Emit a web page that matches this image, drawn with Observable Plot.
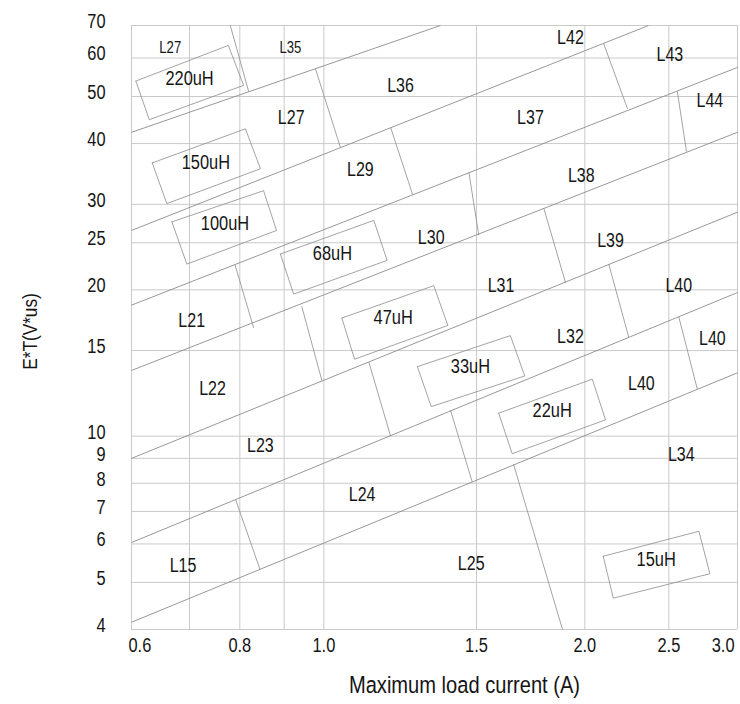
<!DOCTYPE html>
<html><head><meta charset="utf-8">
<script src="https://cdn.jsdelivr.net/npm/d3@7"></script>
<script src="https://cdn.jsdelivr.net/npm/@observablehq/plot@0.6"></script>
<style>
body{margin:0;background:#fff;}
</style></head><body><div id="chart"></div>
<script>
// grid / tick values
const xGrid = [0.6, 0.7, 0.8, 0.9, 1.0, 1.5, 2.0, 2.5, 3.0];
const xTickLabels = [0.8, 1.0, 1.5, 2.0, 2.5];
const xFirstTick = [0.6];
const xLastTick = [3.0];
const yGrid = [4, 5, 6, 7, 8, 9, 10, 15, 20, 25, 30, 40, 50, 60, 70];

// diagonal inductance boundaries [x1, y1, x2, y2]
const boundaries = [
  [0.6, 42.2, 1.363, 70],
  [0.6, 26.5, 2.369, 70],
  [0.6, 18.6, 3.0, 57.4],
  [0.6, 13.65, 3.0, 42.2],
  [0.6, 9.0, 3.0, 28.9],
  [0.6, 6.04, 3.0, 19.75],
  [0.6, 4.14, 3.0, 13.5]
];

// short separators between inductor codes [x1, y1, x2, y2]
const separators = [
  [0.780, 70, 0.819, 51.2],
  [0.978, 57.0, 1.045, 39.3],
  [1.194, 43.2, 1.266, 31.4],
  [2.102, 64.3, 2.240, 47.2],
  [0.790, 22.5, 0.830, 16.7],
  [1.470, 34.9, 1.509, 25.9],
  [2.557, 51.2, 2.620, 38.5],
  [0.943, 18.5, 0.995, 13.0],
  [1.794, 29.4, 1.900, 20.7],
  [1.127, 14.2, 1.194, 10.0],
  [2.131, 22.6, 2.247, 16.0],
  [0.791, 7.41, 0.844, 5.32],
  [1.400, 11.3, 1.483, 8.05],
  [2.567, 17.6, 2.696, 12.5],
  [1.655, 8.75, 1.885, 4.0]
];

// inductance label boxes (corner points)
const boxNames = ["220uH", "150uH", "100uH", "68uH", "47uH", "33uH", "22uH", "15uH"];
const boxCorners = [
  [[0.607, 53.8], [0.776, 63.7], [0.808, 52.7], [0.629, 44.8]],
  [[0.634, 36.5], [0.812, 42.9], [0.845, 35.5], [0.659, 30.1]],
  [[0.668, 27.6], [0.852, 32.0], [0.882, 26.5], [0.695, 22.6]],
  [[0.891, 23.7], [1.142, 27.8], [1.183, 23.0], [0.923, 19.6]],
  [[1.049, 17.5], [1.339, 20.4], [1.390, 16.9], [1.085, 14.4]],
  [[1.282, 13.9], [1.641, 16.1], [1.705, 13.3], [1.330, 11.5]],
  [[1.591, 11.15], [2.040, 13.1], [2.113, 10.8], [1.649, 9.2]],
  [[2.100, 5.66], [2.708, 6.37], [2.788, 5.21], [2.157, 4.64]]
];
const boxLabelX = [0.700, 0.731, 0.769, 1.023, 1.202, 1.476, 1.834, 2.417];
const boxLabelY = [54.4, 36.6, 27.4, 23.8, 17.5, 13.9, 11.3, 5.57];

// inductor code labels
const codeText = ["L27","L36","L42","L29","L37","L43","L21","L30","L38","L44",
  "L22","L31","L39","L40","L23","L32","L40","L40","L15","L24","L25","L34"];
const codeX = [0.917,1.226,1.925,1.102,1.731,2.507,0.704,1.330,1.981,2.788,
  0.744,1.601,2.141,2.567,0.845,1.925,2.806,2.324,0.688,1.107,1.479,2.584];
const codeY = [45.2,52.7,65.9,35.4,45.2,61.0,17.25,25.6,34.4,49.1,
  12.5,20.4,25.2,20.4,9.54,16.0,15.9,12.8,5.40,7.59,5.46,9.16];
const topCodeText = ["L27", "L35"];
const topCodeX = [0.665, 0.915];
const topCodeY = [62.9, 62.9];

const seg = a => a.map(([x1, y1, x2, y2]) => ({x1, y1, x2, y2}));
const boxPts = boxCorners.flatMap((c, i) => [...c, c[0]].map(([x, y]) => ({x, y, id: boxNames[i]})));
const boxLabels = boxNames.map((t, i) => ({t, x: boxLabelX[i], y: boxLabelY[i]}));
const codes = codeText.map((t, i) => ({t, x: codeX[i], y: codeY[i]}));
const topCodes = topCodeText.map((t, i) => ({t, x: topCodeX[i], y: topCodeY[i]}));
const f1 = d3.format(".1f");
const lineColor = "#8c8c8c";
const ink = "#151515";

const chart = Plot.plot({
  width: 740, height: 704,
  marginLeft: 131, marginRight: 3, marginTop: 25, marginBottom: 75,
  x: {type: "log", domain: [0.6, 3.0]},
  y: {type: "log", domain: [4, 70]},
  style: {background: "#fff", color: ink, fontFamily: '"Liberation Sans", Arial, sans-serif'},
  marks: [
    Plot.ruleX(xGrid, {stroke: "#c9c9c9", strokeWidth: 1}),
    Plot.ruleY(yGrid, {stroke: "#c9c9c9", strokeWidth: 1}),
    Plot.link(seg(boundaries), {x1: "x1", y1: "y1", x2: "x2", y2: "y2", stroke: lineColor, strokeWidth: 0.9}),
    Plot.link(seg(separators), {x1: "x1", y1: "y1", x2: "x2", y2: "y2", stroke: lineColor, strokeWidth: 0.8}),
    Plot.line(boxPts, {x: "x", y: "y", z: "id", stroke: lineColor, strokeWidth: 0.8}),
    Plot.text(codes, {x: "x", y: "y", text: "t", fontSize: 19.5, fill: ink}),
    Plot.text(topCodes, {x: "x", y: "y", text: "t", fontSize: 16, fill: ink}),
    Plot.text(boxLabels, {x: "x", y: "y", text: "t", fontSize: 20, fill: ink}),
    Plot.axisY(yGrid, {tickSize: 0, tickPadding: 26, fontSize: 20, dy: -4, label: null, tickFormat: d => String(d)}),
    Plot.axisX(xTickLabels, {tickSize: 0, tickPadding: 8, fontSize: 20, label: null, tickFormat: f1}),
    Plot.axisX(xFirstTick, {tickSize: 0, tickPadding: 8, fontSize: 20, label: null, tickFormat: f1, textAnchor: "start", dx: -3}),
    Plot.axisX(xLastTick, {tickSize: 0, tickPadding: 8, fontSize: 20, label: null, tickFormat: f1, textAnchor: "end", dx: -3}),
    Plot.text(["Maximum load current (A)"], {frameAnchor: "bottom", textAnchor: "middle", lineAnchor: "middle", dx: 30, dy: 56, fontSize: 24.5, fill: ink}),
    Plot.text(["E*T(V*us)"], {frameAnchor: "left", textAnchor: "middle", lineAnchor: "middle", rotate: -90, dx: -101, dy: 4, fontSize: 21, fill: ink})
  ]
});
document.getElementById("chart").appendChild(chart);
// narrow (condensed) lettering like the original typeface
chart.querySelectorAll("text").forEach(t => {
  const len = t.getComputedTextLength();
  if (len > 0) {
    t.setAttribute("textLength", (len * 0.82).toFixed(2));
    t.setAttribute("lengthAdjust", "spacingAndGlyphs");
  }
});
</script>
</body></html>
